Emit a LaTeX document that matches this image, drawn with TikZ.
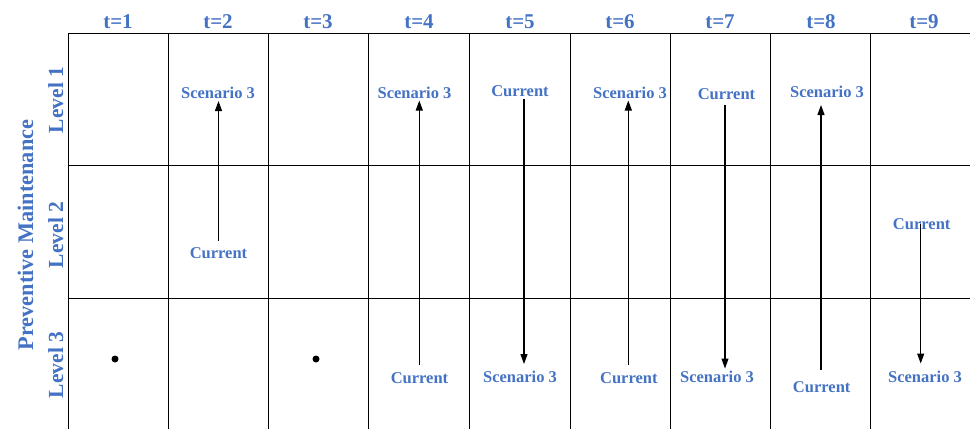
\documentclass[tikz,border=0pt]{standalone}
\usepackage{fontspec}
\setmainfont{Liberation Serif}
\usetikzlibrary{arrows.meta}
\definecolor{lblue}{HTML}{4472C4}
\begin{document}
\begin{tikzpicture}[x=1pt,y=-1pt,
  grid/.style={draw=black,line width=0.9pt},
  hdr/.style={text=lblue,font=\fontsize{21}{24}\selectfont\bfseries,anchor=base,inner sep=0pt},
  lvl/.style={text=lblue,font=\fontsize{21.5}{24}\selectfont\bfseries,anchor=base,inner sep=0pt,rotate=90},
  pmlbl/.style={text=lblue,font=\fontsize{22.3}{24}\selectfont\bfseries,anchor=base,inner sep=0pt,rotate=90},
  cell/.style={text=lblue,font=\fontsize{16.5}{19}\selectfont\bfseries,anchor=base,inner sep=0pt},
  move/.style={draw=black,line width=1.1pt,-{Triangle[length=10pt,width=7pt]}},
  dotmark/.style={circle,fill=black,inner sep=0pt,minimum size=7pt}]
\useasboundingbox (0,0) rectangle (970,429);
% grid
\draw[grid] (68,33) -- (970,33);
\draw[grid] (68,165.5) -- (970,165.5);
\draw[grid] (68,298.5) -- (970,298.5);
\foreach \x in {68,168.3,268.3,368.7,469.3,570,670,770.5,870.7}
  \draw[grid] (\x,33) -- (\x,429);
% headers
\node[hdr] (h1) at (118,28) {t=1};
\node[hdr] (h2) at (218,28) {t=2};
\node[hdr] (h3) at (318,28) {t=3};
\node[hdr] (h4) at (419,28) {t=4};
\node[hdr] (h5) at (520,28) {t=5};
\node[hdr] (h6) at (620,28) {t=6};
\node[hdr] (h7) at (720,28) {t=7};
\node[hdr] (h8) at (821,28) {t=8};
\node[hdr] (h9) at (924,28) {t=9};
% row labels
\node[pmlbl] (pm) at (33,235) {Preventive Maintenance};
\node[lvl] (l1) at (63,100) {Level 1};
\node[lvl] (l2) at (63,235) {Level 2};
\node[lvl] (l3) at (63,365) {Level 3};
% dots
\node[dotmark] (d1) at (115,359) {};
\node[dotmark] (d3) at (316,359) {};
% t=2
\node[cell] (s2) at (218,98) {Scenario 3};
\node[cell] (c2) at (218.5,258) {Current};
\coordinate (a2s) at (218.5,241); \coordinate (a2e) at (218.5,101);
\draw[move] (a2s) -- (a2e);
% t=4
\node[cell] (s4) at (414.5,98) {Scenario 3};
\node[cell] (c4) at (419.5,383) {Current};
\coordinate (a4s) at (419.3,365); \coordinate (a4e) at (419.3,100.5);
\draw[move] (a4s) -- (a4e);
% t=5
\node[cell] (c5) at (520,96) {Current};
\node[cell] (s5) at (520,382) {Scenario 3};
\coordinate (a5s) at (524,99); \coordinate (a5e) at (524,364);
\draw[move] (a5s) -- (a5e);
% t=6
\node[cell] (s6) at (630,98) {Scenario 3};
\node[cell] (c6) at (628.8,383) {Current};
\coordinate (a6s) at (628.3,365); \coordinate (a6e) at (628.3,100.5);
\draw[move] (a6s) -- (a6e);
% t=7
\node[cell] (c7) at (726.5,99.5) {Current};
\node[cell] (s7) at (717,382) {Scenario 3};
\coordinate (a7s) at (725,104.5); \coordinate (a7e) at (725,368.5);
\draw[move] (a7s) -- (a7e);
% t=8
\node[cell] (s8) at (827,97.5) {Scenario 3};
\node[cell] (c8) at (821.7,392) {Current};
\coordinate (a8s) at (821,370); \coordinate (a8e) at (821,105);
\draw[move] (a8s) -- (a8e);
% t=9
\node[cell] (c9) at (921.7,229.5) {Current};
\node[cell] (s9) at (925,382) {Scenario 3};
\coordinate (a9s) at (920.7,223.5); \coordinate (a9e) at (920.7,363.5);
\draw[move] (a9s) -- (a9e);
\end{tikzpicture}
\end{document}
